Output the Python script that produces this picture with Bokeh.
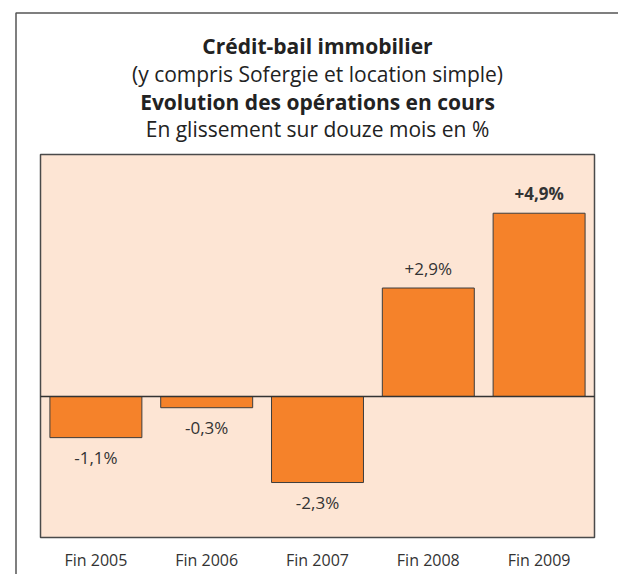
from bokeh.plotting import figure
from bokeh.models import Range1d, Label, ColumnDataSource, FixedTicker
from bokeh.core.properties import value
from bokeh.embed import file_html
from bokeh.resources import INLINE

# ---- data ----
categories = ["Fin 2005", "Fin 2006", "Fin 2007", "Fin 2008", "Fin 2009"]
values = [-1.1, -0.3, -2.3, 2.9, 4.9]
label_styles = ["normal", "normal", "normal", "normal", "bold"]
title_lines = [
    "Crédit-bail immobilier",
    "(y compris Sofergie et location simple)",
    "Evolution des opérations en cours",
    "En glissement sur douze mois en %",
]
title_styles = ["bold", "normal", "bold", "normal"]

# ---- layout (pixels on the canvas) ----
W, H = 618, 574
CH_L, CH_R, CH_T, CH_B = 40, 594, 154, 537      # chart box on canvas
FRAME_X, FRAME_Y = 15.5, 12.5                    # outer frame lines
Y0, Y1 = -3.77, 6.47                             # chart value range
title_baselines_px = [45.2, 73.5, 101.0, 128.5]

n = len(categories)
xppu = (CH_R - CH_L) / n
yppu = (CH_B - CH_T) / (Y1 - Y0)
XL = -0.5 - CH_L / xppu
XR = n - 0.5 + (W - CH_R) / xppu
YT = Y1 + CH_T / yppu
YB = Y0 - (H - CH_B) / yppu

def px_x(px):
    return XL + px / xppu

def px_y(py):
    return YT - py / yppu

p = figure(width=W, height=H, x_range=Range1d(XL, XR), y_range=Range1d(YB, YT),
           output_backend="svg", toolbar_location=None, y_axis_location=None,
           min_border=0)
p.outline_line_color = None
p.background_fill_color = "white"
p.border_fill_color = "white"
p.xgrid.visible = False
p.ygrid.visible = False

# outer frame (left and top edges visible)
p.line(x=[px_x(FRAME_X), px_x(FRAME_X), XR + 1], y=[YB - 1, px_y(FRAME_Y), px_y(FRAME_Y)],
       line_color="#555555", line_width=1.5)

# chart box
p.quad(left=-0.5, right=n - 0.5, bottom=Y0, top=Y1,
       fill_color="#FDE5D4", line_color="#4a4a4a", line_width=1.5)

xs = list(range(n))
src = ColumnDataSource(dict(
    x=xs, top=values,
    txt=[("%+.1f%%" % v).replace(".", ",") for v in values],
    off=[-20 if v > 0 else 20 for v in values],
    style=label_styles,
))

p.vbar(x="x", top="top", bottom=0, width=0.83, source=src,
       fill_color="#F5822A", line_color="#3d3d3d", line_width=1)

p.segment(x0=[-0.5], y0=[0], x1=[n - 0.5], y1=[0], line_color="#333333", line_width=1.5)

p.text(x="x", y="top", text="txt", y_offset="off", source=src,
       text_align="center", text_baseline="middle",
       text_font=value("Open Sans"), text_font_size="17px",
       text_font_style="style", text_color="#333333")

ax = p.xaxis[0]
ax.fixed_location = Y0
ax.ticker = FixedTicker(ticks=xs)
ax.major_label_overrides = {i: c for i, c in zip(xs, categories)}
ax.axis_line_color = None
ax.major_tick_line_color = None
ax.minor_tick_line_color = None
ax.major_tick_out = 0
ax.major_tick_in = 0
ax.major_label_standoff = 11
ax.major_label_text_font = "Open Sans"
ax.major_label_text_font_size = "16px"
ax.major_label_text_color = "#333333"

for line, st, by in zip(title_lines, title_styles, title_baselines_px):
    p.add_layout(Label(x=(n - 1) / 2, y=px_y(by), text=line, text_align="center",
                       text_baseline="alphabetic", text_font="Open Sans",
                       text_font_size="21px", text_font_style=st,
                       text_color="#222222"))

open("out.html", "w").write(file_html(p, INLINE))
